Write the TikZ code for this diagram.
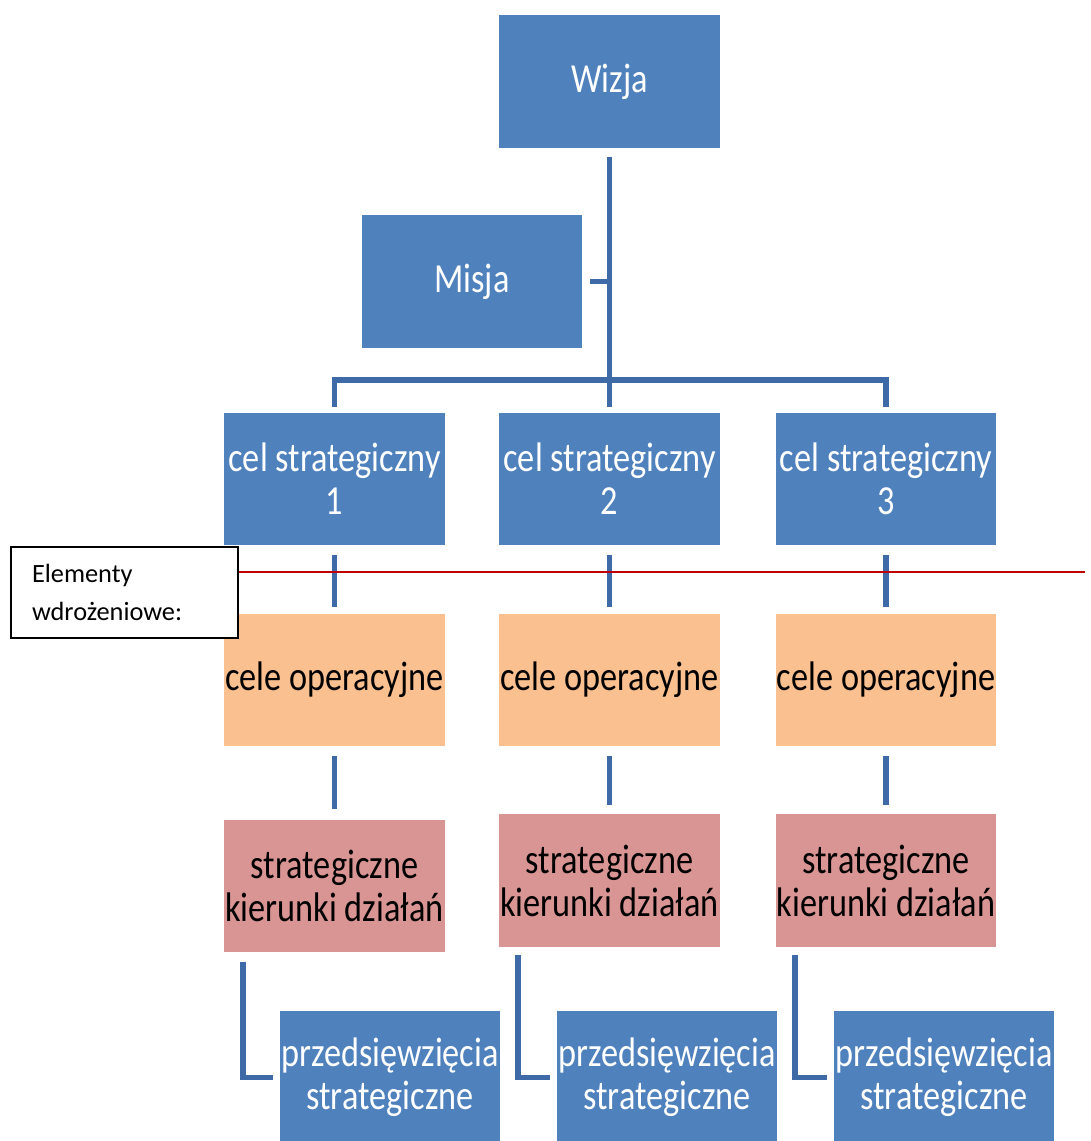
\documentclass[tikz,border=0pt]{standalone}
\usepackage{fontspec}
\setmainfont{Carlito}
\newfontfamily\boxfont[FakeStretch=0.83]{Carlito}
\usetikzlibrary{calc}
\definecolor{orgblue}{RGB}{79,129,189}
\definecolor{linkblue}{RGB}{62,106,168}
\definecolor{orgorange}{RGB}{250,192,143}
\definecolor{orgpink}{RGB}{217,149,148}
\definecolor{darkred}{RGB}{192,0,0}

\begin{document}
\begin{tikzpicture}[x = 0.02cm, y = -0.02cm,
  box/.style = {minimum width=4.42cm, minimum height=2.66cm, inner sep=0pt,
    align=center, font=\boxfont\fontsize{23.5}{24.5}\selectfont},
  bluebox/.style = {box, fill=orgblue, text=white},
  orangebox/.style = {box, fill=orgorange, text=black},
  pinkbox/.style = {box, fill=orgpink, text=black},
  notebox/.style = {draw=black, line width=0.8pt, fill=white, minimum width=4.54cm,
    minimum height=1.82cm, inner xsep=0.42cm, text width=3.7cm, align=left,
    font=\fontsize{15}{21.5}\selectfont},
  link/.style = {-, line width=3.4pt, linkblue},
  redline/.style = {-, line width=1.7pt, darkred}]

  \useasboundingbox (0,0) rectangle (1090,1141);

  \node [bluebox] (wizja) at (609.5, 81.5) {Wizja};
  \node [bluebox] (misja) at (472, 281.5) {Misja};

  \node [bluebox] (cel1) at (334.5, 479) {cel strategiczny\\1};
  \node [bluebox] (cel2) at (609.5, 479) {cel strategiczny\\2};
  \node [bluebox] (cel3) at (886, 479) {cel strategiczny\\3};

  \node [orangebox] (oper1) at (334.5, 680) {cele operacyjne};
  \node [orangebox] (oper2) at (609.5, 680) {cele operacyjne};
  \node [orangebox] (oper3) at (886, 680) {cele operacyjne};

  \node [pinkbox] (kier1) at (334.5, 886) {strategiczne\\kierunki działań};
  \node [pinkbox] (kier2) at (609.5, 880.5) {strategiczne\\kierunki działań};
  \node [pinkbox] (kier3) at (886, 880.5) {strategiczne\\kierunki działań};

  \node [bluebox] (przed1) at (390, 1077.5) {przedsięwzięcia\\strategiczne};
  \node [bluebox] (przed2) at (667, 1077.5) {przedsięwzięcia\\strategiczne};
  \node [bluebox] (przed3) at (944, 1077.5) {przedsięwzięcia\\strategiczne};

  \coordinate (bus) at (609.5, 380);
  \draw [link] ($(wizja.south)+(0,9)$) -- ($(cel2.north)+(0,-5)$);
  \draw [link] ($(misja.east)+(7,0)$) -- (misja.east -| wizja.south);
  \draw [link] ($(cel1.north)+(0,-5)$) |- (bus) -| ($(cel3.north)+(0,-5)$);

  \draw [link] ($(cel1.south)+(0,9)$) -- ($(oper1.north)+(0,-6)$);
  \draw [link] ($(cel2.south)+(0,9)$) -- ($(oper2.north)+(0,-6)$);
  \draw [link] ($(cel3.south)+(0,9)$) -- ($(oper3.north)+(0,-6)$);

  \draw [link] ($(oper1.south)+(0,9)$) -- ($(kier1.north)+(0,-10)$);
  \draw [link] ($(oper2.south)+(0,9)$) -- ($(kier2.north)+(0,-9)$);
  \draw [link] ($(oper3.south)+(0,9)$) -- ($(kier3.north)+(0,-9)$);

  \draw [link] ($(kier1.south west)+(19,9)$) |- ($(przed1.west)+(-6,0)$);
  \draw [link] ($(kier2.south west)+(19,8)$) |- ($(przed2.west)+(-6,0)$);
  \draw [link] ($(kier3.south west)+(20,8)$) |- ($(przed3.west)+(-6,0)$);

  \node [notebox] (note) at (124.5, 592.5) {Elementy\\wdrożeniowe:};
  \coordinate (redend) at (1085, 572);
  \draw [redline] (note.east |- redend) -- (redend);
\end{tikzpicture}
\end{document}
